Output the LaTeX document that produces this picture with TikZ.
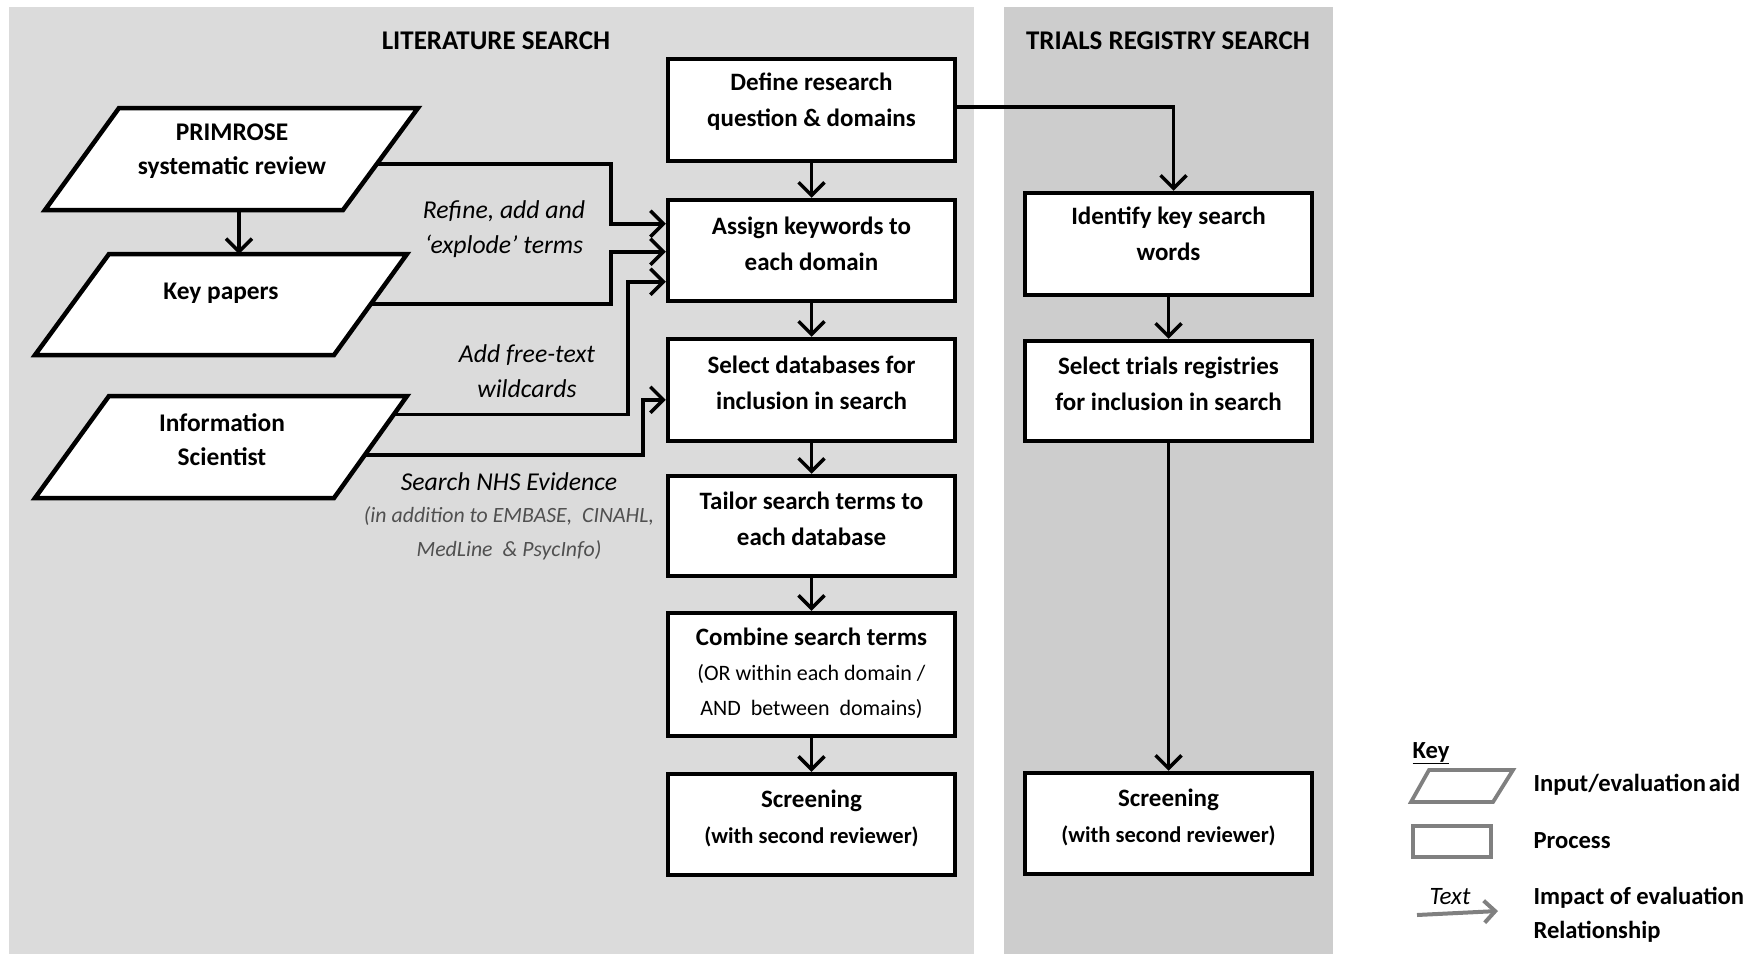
\documentclass[tikz,border=0pt]{standalone}
\usepackage{fontspec}
\setmainfont{Carlito}
\usetikzlibrary{arrows.meta,calc}

\definecolor{litbg}{RGB}{219,219,219}
\definecolor{regbg}{RGB}{205,205,205}
\definecolor{keygray}{RGB}{128,128,128}
\definecolor{notegray}{RGB}{80,80,80}

% smaller regular-weight text used inside process boxes
\newcommand\boxsubfont{\fontsize{22}{34}\selectfont\mdseries}
\newcommand\revfont{\fontsize{22.5}{36}\selectfont}

\begin{document}
\begin{tikzpicture}[x=1pt,y=-1pt,
  procbox/.style={draw=black, fill=white, line width=4.5pt, minimum width=287pt, inner sep=0pt},
  boxtext/.style={font=\bfseries\fontsize{25}{36}\selectfont, align=center},
  paraframe/.style={draw=black, fill=white, line width=4.5pt, line join=miter},
  paratext/.style={font=\bfseries\fontsize{25.4}{34}\selectfont, align=center},
  title/.style={font=\bfseries\fontsize{27}{30}\selectfont},
  flow/.style={line width=3.5pt, -{Straight Barb[length=13pt,width=26pt]}},
  edgelab/.style={font=\itshape\fontsize{25.7}{35}\selectfont, align=center},
  notelab/.style={font=\itshape\fontsize{21.8}{34}\selectfont, text=notegray, align=center},
  keytext/.style={font=\bfseries\fontsize{24.6}{34}\selectfont, align=left},
  keyshape/.style={draw=keygray, line width=3.8pt, fill=white},
]
\useasboundingbox (0,0) rectangle (1751,954);

% background panels
\fill[litbg] (9,7) rectangle (974,954);
\fill[regbg] (1004,7) rectangle (1333,954);

\node[title] (littitle) at (496,41) {LITERATURE SEARCH};
\node[title] (regtitle) at (1168,41) {TRIALS REGISTRY SEARCH};

% literature search process column
\node[procbox, minimum height=102pt,
  label={[name=deftext, boxtext, yshift=8pt]center:{Define research\\question \& domains}}]
  (def) at (811.5,110) {};
\node[procbox, minimum height=101pt,
  label={[name=assigntext, boxtext, yshift=7pt]center:{Assign keywords to\\each domain}}]
  (assign) at (811.5,250.5) {};
\node[procbox, minimum height=102pt,
  label={[name=seldbtext, boxtext, yshift=7pt]center:{Select databases for\\inclusion in search}}]
  (seldb) at (811.5,390) {};
\node[procbox, minimum height=100pt,
  label={[name=tailortext, boxtext, yshift=7pt]center:{Tailor search terms to\\each database}}]
  (tailor) at (811.5,526) {};
\node[procbox, minimum height=123pt,
  label={[name=combinetext, boxtext, yshift=1pt]center:{Combine search terms\\[-1pt]
    {\boxsubfont (OR within each domain /}\\[-1pt]
    {\boxsubfont AND~ between~ domains)}}}]
  (combine) at (811.5,674.5) {};
\node[procbox, minimum height=101pt,
  label={[name=screenLtext, boxtext, yshift=6.5pt]center:{Screening\\{\revfont (with second~reviewer)}}}]
  (screenL) at (811.5,824.5) {};

% trials registry column
\node[procbox, minimum height=102pt,
  label={[name=identtext, boxtext, yshift=10pt]center:{Identify key search\\words}}]
  (ident) at (1168.5,244) {};
\node[procbox, minimum height=100pt,
  label={[name=seltrtext, boxtext, yshift=7pt]center:{Select trials registries\\for inclusion in search}}]
  (seltr) at (1168.5,391) {};
\node[procbox, minimum height=101pt,
  label={[name=screenRtext, boxtext, yshift=6pt]center:{Screening\\{\revfont (with second~reviewer)}}}]
  (screenR) at (1168.5,823.5) {};

% input parallelograms
\draw[paraframe] (45,210) coordinate (pr-bl) -- (343,210) coordinate (pr-br)
  -- (418,108) coordinate (pr-tr) -- (119,108) coordinate (pr-tl) -- cycle;
\node[paratext] (primrose) at (232,151) {PRIMROSE\\systematic review};

\draw[paraframe] (35,355) coordinate (kp-bl) -- (334,355) coordinate (kp-br)
  -- (407,254) coordinate (kp-tr) -- (109,254) coordinate (kp-tl) -- cycle;
\node[paratext] (keypapers) at (221,293) {Key papers};

\draw[paraframe] (35,498) coordinate (is-bl) -- (334,498) coordinate (is-br)
  -- (407,396) coordinate (is-tr) -- (109,396) coordinate (is-tl) -- cycle;
\node[paratext] (infosci) at (222,440) {Information\\Scientist};

% connector end points on the slanted edges
\coordinate (pr-out) at ($(pr-br)!0.45!(pr-tr)$);
\coordinate (kp-out) at ($(kp-br)!0.505!(kp-tr)$);
\coordinate (is-out1) at ($(is-br)!0.82!(is-tr)$);
\coordinate (is-out2) at ($(is-br)!0.42!(is-tr)$);
\coordinate (pr-bot) at ($(pr-bl)!0.651!(pr-br)$);

% connectors
\draw[flow] (pr-bot) -- (pr-bot |- kp-tl);
\draw[flow] (pr-out) -| ($(assign.north west)+(-55,26)$) -- ($(assign.north west)+(0,26)$);
\draw[flow] (kp-out) -| ($(assign.north west)+(-55,54)$) -- ($(assign.north west)+(0,54)$);
\draw[flow] (is-out1) -| ($(assign.north west)+(-38,84)$) -- ($(assign.north west)+(0,84)$);
\draw[flow] (is-out2) -| ($(seldb.north west)+(-23,63)$) -- ($(seldb.north west)+(0,63)$);

\draw[flow] (def) -- (assign);
\draw[flow] (assign) -- (seldb);
\draw[flow] (seldb) -- (tailor);
\draw[flow] (tailor) -- (combine);
\draw[flow] (combine) -- (screenL);

\draw[flow] ($(def.east)+(0,-3)$) -| ($(ident.north)+(5,0)$);
\draw[flow] (ident) -- (seltr);
\draw[flow] (seltr) -- (screenR);

% connector labels
\node[edgelab] (refine) at (504,229) {Refine, add and\\‘explode’ terms};
\node[edgelab] (freetext) at (527,371.5) {Add free-text\\wildcards};
\node[edgelab] (nhs) at (509,482) {Search NHS Evidence};
\node[notelab] (dbs) at (509,533) {(in addition to EMBASE,~ CINAHL,\\MedLine~ \&~PsycInfo)};

% key
\node[keytext] (keyhead) at (1431,753) {\underline{Key}};
\draw[keyshape] (1411,802) -- (1493,802) -- (1513,770) -- (1429,770) -- cycle;
\node[keytext, anchor=west] (keyinput) at (1530,785) {Input/evaluation\hspace{0.12em}aid};
\draw[keyshape] (1413,826) rectangle (1491,857);
\node[keytext, anchor=west] (keyproc) at (1530,841) {Process};
\coordinate (karrow-a) at (1417,915);
\coordinate (karrow-b) at (1498,911);
\draw[line width=4pt, draw=keygray, -{Straight Barb[length=11pt,width=22pt]}] (karrow-a) -- (karrow-b);
\node[font=\itshape\fontsize{25}{30}\selectfont] (keytextlab) at (1450,897) {Text};
\node[keytext, anchor=west] (keyimpact) at (1530,915) {Impact of evaluation\\Relationship};
\end{tikzpicture}
\end{document}
